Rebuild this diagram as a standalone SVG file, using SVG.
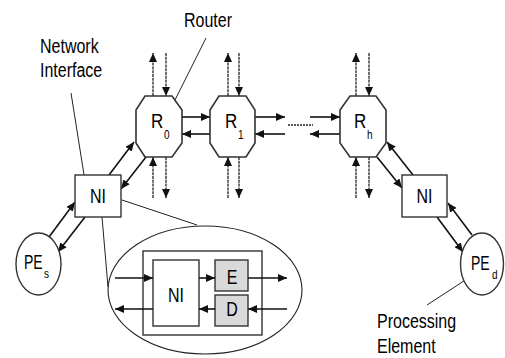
<svg xmlns="http://www.w3.org/2000/svg" width="505" height="358" viewBox="0 0 505 358">
<defs>
<marker id="ah" markerWidth="9" markerHeight="8" refX="9" refY="4" orient="auto" markerUnits="userSpaceOnUse">
<path d="M0,0 L9,4 L0,8 z" fill="#111"/>
</marker>
<style>
.oct{fill:#fff;stroke:#333;stroke-width:1.6}
.box{fill:#fff;stroke:#333;stroke-width:1.4}
.gbox{fill:#d9d9d9;stroke:#333;stroke-width:1.4}
.a{stroke:#111;stroke-width:1.6;fill:none;marker-end:url(#ah)}
.v{stroke:#222;stroke-width:1.3;fill:none;stroke-dasharray:3 0.8;marker-end:url(#ah)}
.thin{stroke:#222;stroke-width:1;fill:none}
.t{font-family:"Liberation Sans",Arial,sans-serif;font-size:16px;fill:#000}
.r{font-family:"Liberation Sans",Arial,sans-serif;font-size:17px;fill:#000}
.sub{font-family:"Liberation Sans",Arial,sans-serif;font-size:10px;fill:#000}
.pe{font-family:"Liberation Sans",Arial,sans-serif;font-size:14px;fill:#000}
</style>
</defs>
<rect width="505" height="358" fill="#fff"/>

<g id="connectors">
<line class="a" x1="182" y1="117" x2="210" y2="117"/>
<line class="a" x1="210" y1="134" x2="182" y2="134"/>
<line class="a" x1="255" y1="117" x2="285" y2="117"/>
<line class="a" x1="285" y1="134" x2="255" y2="134"/>
<line class="a" x1="310" y1="117" x2="340" y2="117"/>
<line class="a" x1="340" y1="134" x2="310" y2="134"/>
<line x1="288" y1="125" x2="313" y2="125" stroke="#222" stroke-width="1.3" stroke-dasharray="2 1"/>

<line class="v" x1="153" y1="96" x2="153" y2="53"/>
<line class="v" x1="166" y1="53" x2="166" y2="96"/>
<line class="v" x1="153" y1="198" x2="153" y2="157"/>
<line class="v" x1="166" y1="157" x2="166" y2="198"/>
<line class="v" x1="228" y1="96" x2="228" y2="53"/>
<line class="v" x1="239" y1="53" x2="239" y2="96"/>
<line class="v" x1="228" y1="198" x2="228" y2="157"/>
<line class="v" x1="239" y1="157" x2="239" y2="198"/>
<line class="v" x1="356" y1="96" x2="356" y2="53"/>
<line class="v" x1="369" y1="53" x2="369" y2="96"/>
<line class="v" x1="356" y1="198" x2="356" y2="157"/>
<line class="v" x1="369" y1="157" x2="369" y2="198"/>

<line class="a" x1="109" y1="175" x2="134" y2="142"/>
<line class="a" x1="146" y1="157" x2="121" y2="189"/>
<line class="a" x1="49" y1="237" x2="75" y2="202"/>
<line class="a" x1="85" y1="217" x2="58" y2="252"/>
<line class="a" x1="413" y1="175" x2="387" y2="142"/>
<line class="a" x1="377" y1="157" x2="402" y2="188"/>
<line class="a" x1="437" y1="217" x2="463" y2="252"/>
<line class="a" x1="472" y1="235" x2="448" y2="203"/>

<line class="thin" x1="122" y1="200" x2="197" y2="225"/>
<line class="thin" x1="102" y1="217" x2="108" y2="287"/>

<line class="thin" x1="206" y1="38" x2="172" y2="106"/>
<circle cx="172" cy="106" r="2" fill="#111"/>
<line class="thin" x1="71" y1="93" x2="85" y2="181"/>
<circle cx="85" cy="181" r="2" fill="#111"/>
<line class="thin" x1="427" y1="305" x2="470" y2="277"/>
<circle cx="470" cy="277" r="2" fill="#111"/>
</g>

<g id="R0">
<polygon class="oct" points="145,96 172,96 182,110 182,143 172,157 145,157 136,143 136,110"/>
<text class="r" transform="translate(151,128) scale(1,1.2)">R</text>
<text class="sub" transform="translate(164,139) scale(1,1.2)">0</text>
</g>
<g id="R1">
<polygon class="oct" points="219,96 246,96 255,110 255,143 246,157 219,157 210,143 210,110"/>
<text class="r" transform="translate(225,128) scale(1,1.2)">R</text>
<text class="sub" transform="translate(238,139) scale(1,1.2)">1</text>
</g>
<g id="Rh">
<polygon class="oct" points="350,96 376,96 386,110 386,143 376,157 350,157 340,143 340,110"/>
<text class="r" transform="translate(354,128) scale(1,1.2)">R</text>
<text class="sub" transform="translate(367,139) scale(1,1.2)">h</text>
</g>

<g id="NI_left">
<rect class="box" x="75" y="175" width="46" height="42"/>
<text class="t" text-anchor="middle" transform="translate(98,203) scale(1,1.3)">NI</text>
</g>
<g id="NI_right">
<rect class="box" x="402" y="175" width="45" height="42"/>
<text class="t" text-anchor="middle" transform="translate(424.5,203) scale(1,1.3)">NI</text>
</g>

<g id="PE_s">
<ellipse class="box" cx="38.5" cy="264" rx="22.5" ry="31"/>
<text class="pe" transform="translate(24,269) scale(1,1.4)">PE</text>
<text class="sub" transform="translate(44,278) scale(1,1.2)">s</text>
</g>
<g id="PE_d">
<ellipse class="box" cx="482" cy="264" rx="21.5" ry="31"/>
<text class="pe" transform="translate(471,270) scale(1,1.4)">PE</text>
<text class="sub" transform="translate(492,279) scale(1,1.2)">d</text>
</g>

<g id="zoom_bubble">
<ellipse cx="205" cy="290" rx="97" ry="64" fill="none" stroke="#222" stroke-width="1.1"/>
<rect class="box" x="143" y="251" width="119" height="84"/>
<rect class="box" x="153" y="260" width="46" height="66"/>
<text class="t" text-anchor="middle" transform="translate(176,302) scale(1,1.3)">NI</text>
<rect class="gbox" x="215" y="260" width="33" height="31"/>
<text class="t" text-anchor="middle" transform="translate(232,284) scale(1,1.25)">E</text>
<rect class="gbox" x="215" y="295" width="33" height="31"/>
<text class="t" text-anchor="middle" transform="translate(232,316) scale(1,1.25)">D</text>
<line class="a" x1="115" y1="278" x2="153" y2="278"/>
<line class="a" x1="153" y1="309" x2="115" y2="309"/>
<line class="a" x1="199" y1="278" x2="215" y2="278"/>
<line class="a" x1="215" y1="309" x2="199" y2="309"/>
<line class="a" x1="248" y1="278" x2="287" y2="278"/>
<line class="a" x1="287" y1="309" x2="248" y2="309"/>
</g>

<g id="labels">
<text class="t" transform="translate(184,27) scale(1,1.25)">Router</text>
<text class="t" transform="translate(40,53) scale(1,1.25)">Network</text>
<text class="t" transform="translate(40,77) scale(1,1.25)">Interface</text>
<text class="t" transform="translate(377,328) scale(1,1.25)">Processing</text>
<text class="t" transform="translate(377,353) scale(1,1.25)">Element</text>
</g>
</svg>
